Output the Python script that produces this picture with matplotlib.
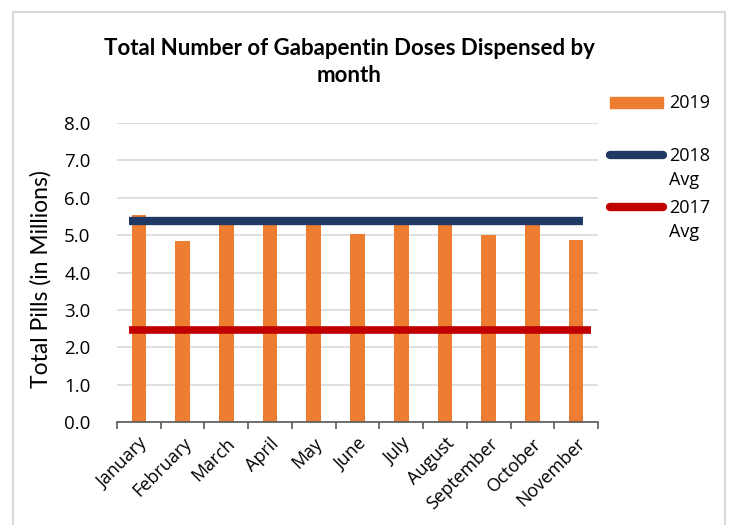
import matplotlib
matplotlib.use('Agg')
import matplotlib.pyplot as plt
from matplotlib.patches import Rectangle, Patch
from matplotlib.lines import Line2D
import numpy as np

#Chart data
months = ['January', 'February', 'March', 'April', 'May', 'June',
          'July', 'August', 'September', 'October', 'November']
doses_2019 = [5.53, 4.83, 5.36, 5.38, 5.40, 5.03, 5.40, 5.30, 5.01, 5.38, 4.88]
avg_2018 = 5.37
avg_2017 = 2.45
y_ticks = [0.0, 1.0, 2.0, 3.0, 4.0, 5.0, 6.0, 7.0, 8.0]

orange, navy, red = '#ed7d31', '#1f3864', '#c00000'
plt.rcParams['font.family'] = ['Open Sans', 'DejaVu Sans']

fig = plt.figure(figsize=(7.30, 5.25), dpi=100)

#Light gray chart-area border
fig.patches.append(Rectangle((13 / 730, -0.05), (725 - 13) / 730, 1.05 - 12 / 525,
                             transform=fig.transFigure, fill=False,
                             edgecolor='#d9d9d9', linewidth=1.5))

ax = fig.add_axes([117 / 730, 1 - 422 / 525, (598 - 117) / 730, (422 - 123) / 525])

x = np.arange(len(months))
ax.bar(x, doses_2019, width=0.335, color=orange, zorder=2)
ax.hlines(avg_2018, x[0] - 0.23, x[-1] + 0.16, color=navy, linewidth=6, zorder=3)
ax.hlines(avg_2017, x[0] - 0.23, x[-1] + 0.34, color=red, linewidth=5.5, zorder=3)

#Axes styling, Excel look
ax.set_xlim(-0.5, len(months) - 0.5)
ax.set_ylim(0, 8)
ax.set_yticks(y_ticks)
ax.set_yticklabels([f"{v:.1f}" for v in y_ticks], fontsize=13.5)
ax.yaxis.grid(True, color='#d9d9d9', linewidth=1.2, zorder=0)
ax.set_axisbelow(True)
ax.tick_params(axis='y', length=0, pad=19)

ax.set_xticks(x)
ax.set_xticklabels(months, rotation=45, ha='right', rotation_mode='anchor', fontsize=13)
ax.tick_params(axis='x', length=0, pad=9)
ax.set_xticks(np.arange(-0.5, len(months)), minor=True)
ax.tick_params(axis='x', which='minor', length=5, color='#595959', width=1.2)

for side in ['left', 'right', 'top']:
    ax.spines[side].set_visible(False)
ax.spines['bottom'].set_color('#595959')
ax.spines['bottom'].set_linewidth(1.2)

ax.set_ylabel('Total Pills (in Millions)', fontsize=16.5, family=['Lato', 'DejaVu Sans'])
ax.yaxis.set_label_coords(-0.137, 0.478)

fig.text(349 / 730, 1 - 62 / 525, 'Total Number of Gabapentin Doses Dispensed by\nmonth',
         ha='center', va='center', fontsize=16, fontweight='bold', linespacing=1.4,
         family=['Lato', 'DejaVu Sans'])

#Legend on the right: one block per series so the handles sit on the first text line
blank = Line2D([], [], color='none')
legend_kw = dict(loc='upper left', frameon=False, fontsize=13, handlelength=2.95,
                 handletextpad=0.3, labelspacing=0.35, borderpad=0, borderaxespad=0)
blocks = [
    ([Patch(color=orange)], ['2019'], 94),
    ([Line2D([], [], color=navy, lw=6, solid_capstyle='round'), blank], ['2018', 'Avg'], 147),
    ([Line2D([], [], color=red, lw=6, solid_capstyle='round'), blank], ['2017', 'Avg'], 199),
]
for handles, labels, top in blocks:
    leg = fig.legend(handles, labels, bbox_to_anchor=(610 / 730, 1 - top / 525), **legend_kw)
    for patch in leg.get_patches():
        patch.set_height(8)

fig.savefig('out.png', dpi=100)
